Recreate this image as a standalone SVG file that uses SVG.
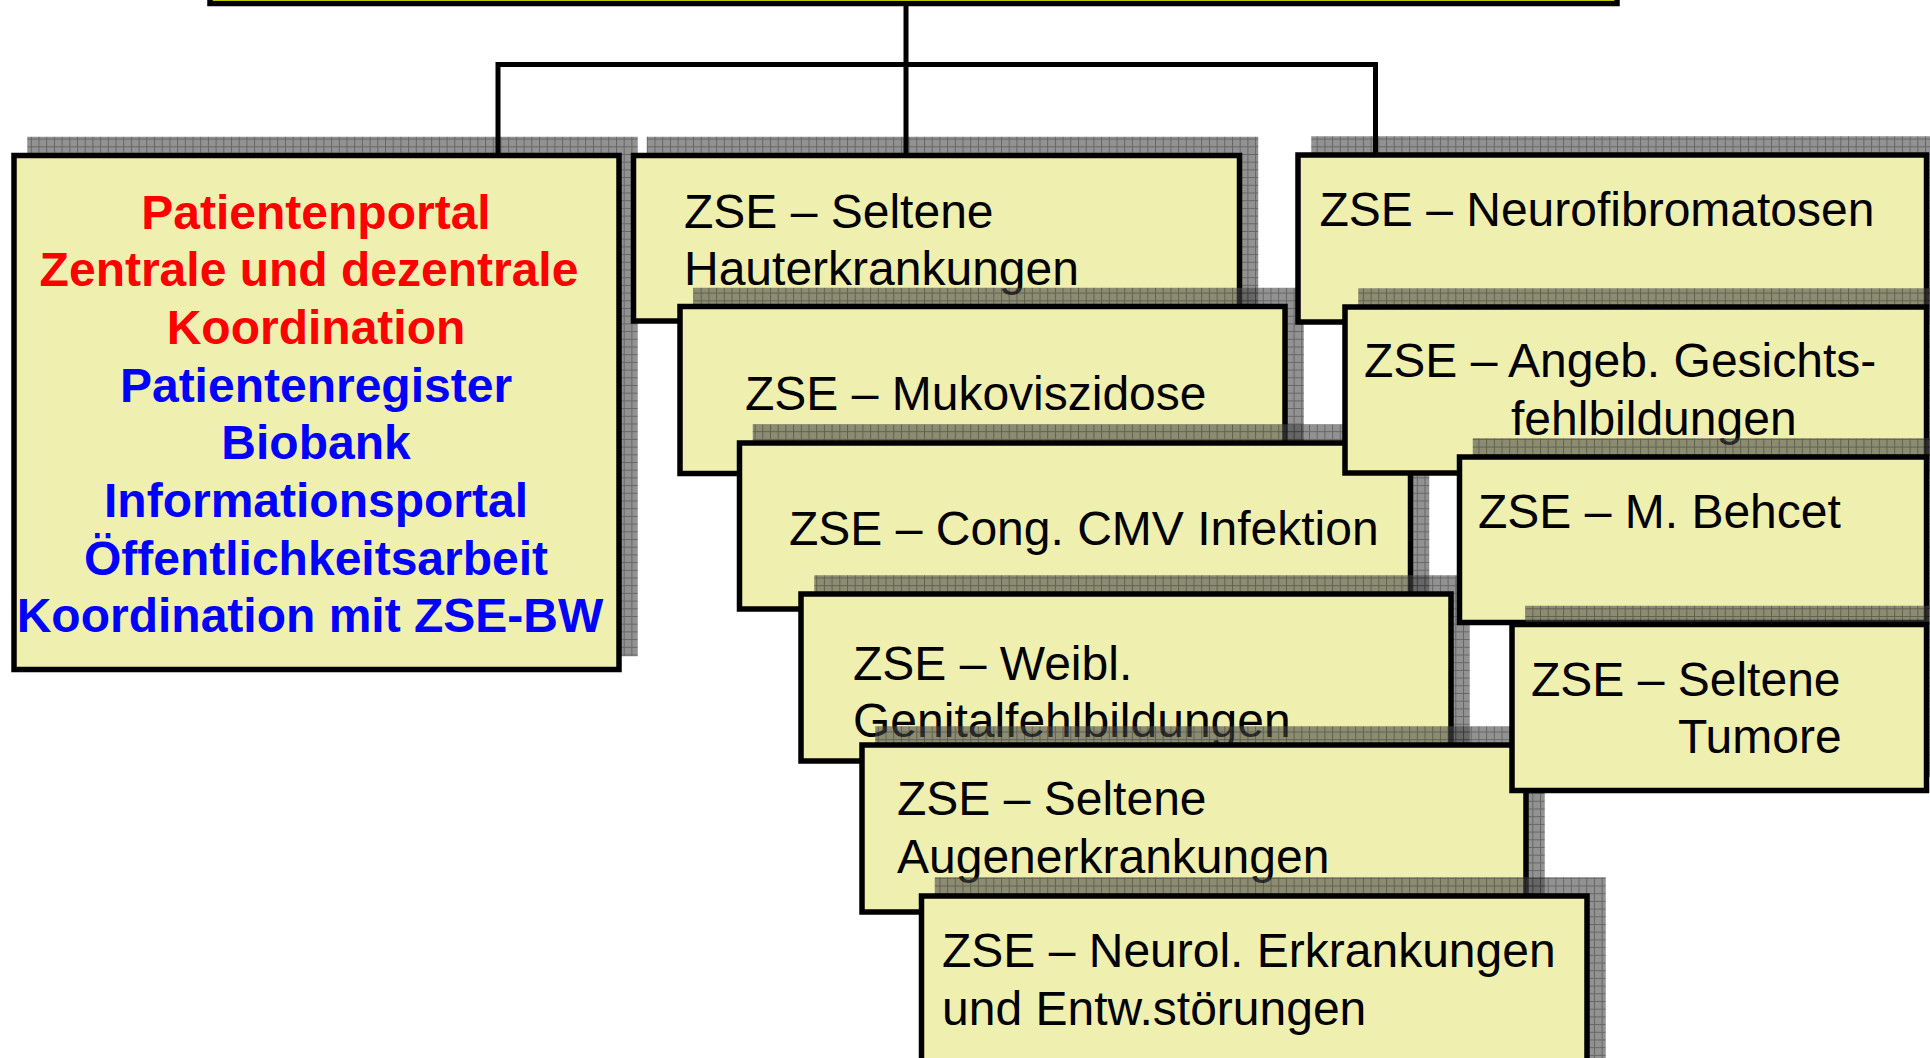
<svg xmlns="http://www.w3.org/2000/svg" width="1930" height="1058" viewBox="0 0 1930 1058">
<defs>
<pattern id="hatch" width="7.7" height="7.7" patternUnits="userSpaceOnUse">
<rect width="7.7" height="7.7" fill="#4a4a4a" fill-opacity="0.6"/>
<path d="M0 0.5H7.7M0.5 0V7.7" stroke="#000" stroke-opacity="0.3" stroke-width="1"/>
</pattern>
</defs>
<style>
.box{fill:#EFEFB0;stroke:#000;stroke-width:5.5}
.sh{fill:url(#hatch)}
.t{font-family:"Liberation Sans",Arial,sans-serif;font-size:48px;fill:#000}
.b{font-family:"Liberation Sans",Arial,sans-serif;font-size:48px;font-weight:bold;text-anchor:middle}
.red{fill:#FF0000}
.blue{fill:#0000FF}
.con{fill:none;stroke:#000;stroke-width:5}
</style>
<rect width="1930" height="1058" fill="#fff"/>

<g id="top">
<rect x="210" y="-60" width="1407" height="63.5" fill="#FFFF00" stroke="#000" stroke-width="5.5"/>
</g>

<g id="left-box">
<rect class="sh" x="27.25" y="136.75" width="610.5" height="519.5"/>
<rect class="box" x="14" y="155.5" width="605" height="514"/>
<text class="b red" x="316" y="228.5">Patientenportal</text>
<text class="b red" x="309" y="286.2">Zentrale und dezentrale</text>
<text class="b red" x="316" y="343.9">Koordination</text>
<text class="b blue" x="316" y="401.6">Patientenregister</text>
<text class="b blue" x="316" y="459.3">Biobank</text>
<text class="b blue" x="316" y="517">Informationsportal</text>
<text class="b blue" x="316" y="574.7">Öffentlichkeitsarbeit</text>
<text class="b blue" x="310" y="632.4">Koordination mit ZSE-BW</text>
</g>

<g id="haut">
<rect class="sh" x="646.75" y="136.75" width="611.5" height="171"/>
<rect class="box" x="633.5" y="155.5" width="606" height="165.5"/>
<text class="t" x="684" y="228">ZSE – Seltene</text>
<text class="t" x="684" y="285">Hauterkrankungen</text>
</g>

<g id="muko">
<rect class="sh" x="693.25" y="287.75" width="610.5" height="172.5"/>
<rect class="box" x="680" y="306.5" width="605" height="167"/>
<text class="t" x="745" y="410">ZSE – Mukoviszidose</text>
</g>

<g id="cmv">
<rect class="sh" x="752.75" y="424.25" width="676.5" height="171.5"/>
<rect class="box" x="739.5" y="443" width="671" height="166"/>
<text class="t" x="789" y="545">ZSE – Cong. CMV Infektion</text>
</g>

<g id="weibl">
<rect class="sh" x="814.25" y="575.25" width="655.5" height="172.5"/>
<rect class="box" x="801" y="594" width="650" height="167"/>
<text class="t" x="853" y="680">ZSE – Weibl.</text>
<text class="t" x="853" y="737">Genitalfehlbildungen</text>
</g>

<g id="augen">
<rect class="sh" x="875.25" y="726.25" width="669.5" height="172.5"/>
<rect class="box" x="862" y="745" width="664" height="167"/>
<text class="t" x="897" y="815">ZSE – Seltene</text>
<text class="t" x="897" y="873">Augenerkrankungen</text>
</g>

<g id="neurol">
<rect class="sh" x="934.75" y="877.25" width="671" height="190"/>
<rect class="box" x="921.5" y="896" width="665.5" height="185"/>
<text class="t" x="942" y="967">ZSE – Neurol. Erkrankungen</text>
<text class="t" x="942" y="1025">und Entw.störungen</text>
</g>

<g id="neurofibro">
<rect class="sh" x="1311.25" y="136.25" width="634" height="172.5"/>
<rect class="box" x="1298" y="155" width="628.5" height="167"/>
<text class="t" x="1319.5" y="226">ZSE – Neurofibromatosen</text>
</g>

<g id="angeb">
<rect class="sh" x="1358.25" y="288.25" width="587" height="171.5"/>
<rect class="box" x="1345" y="307" width="581.5" height="166"/>
<text class="t" x="1364" y="377">ZSE – Angeb. Gesichts-</text>
<text class="t" x="1511" y="435">fehlbildungen</text>
</g>

<g id="behcet">
<rect class="sh" x="1472.75" y="438.25" width="472.5" height="171"/>
<rect class="box" x="1459.5" y="457" width="467" height="165.5"/>
<text class="t" x="1478" y="528">ZSE – M. Behcet</text>
</g>

<g id="tumore">
<rect class="sh" x="1525.25" y="605.75" width="420" height="171.5"/>
<rect class="box" x="1512" y="624.5" width="414.5" height="166"/>
<text class="t" x="1531" y="696">ZSE – Seltene</text>
<text class="t" x="1678" y="753">Tumore</text>
</g>

<g id="connectors">
<path class="con" d="M498 155V64.5H1375.5V155"/>
<path class="con" d="M906 6V155"/>
</g>
</svg>
